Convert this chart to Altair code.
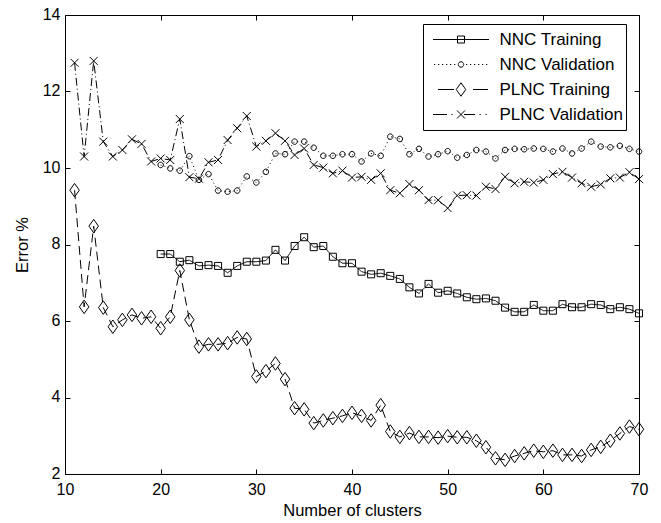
import math
import altair as alt
import pandas as pd

FONT = "Liberation Sans, Arial, Helvetica, sans-serif"

# ---------------- data ----------------
series_names = ["NNC Training", "NNC Validation", "PLNC Training", "PLNC Validation"]

nnc_clusters = list(range(20, 71))
plnc_clusters = list(range(11, 71))

nnc_training = [
    7.75, 7.75, 7.55, 7.59, 7.44, 7.46, 7.44, 7.26, 7.44, 7.55,   # 20-29
    7.55, 7.58, 7.86, 7.58, 7.96, 8.19, 7.93, 7.96, 7.68, 7.51,   # 30-39
    7.51, 7.29, 7.22, 7.25, 7.18, 7.10, 6.88, 6.72, 6.97, 6.74,   # 40-49
    6.79, 6.72, 6.62, 6.57, 6.59, 6.53, 6.35, 6.24, 6.24, 6.42,   # 50-59
    6.27, 6.27, 6.44, 6.36, 6.36, 6.44, 6.42, 6.31, 6.36, 6.31,   # 60-69
    6.20,                                                         # 70
]

nnc_validation = [
    10.08, 9.99, 9.93, 10.31, 9.69, 9.84, 9.41, 9.38, 9.41, 9.78,      # 20-29
    9.62, 9.90, 10.38, 10.36, 10.69, 10.69, 10.53, 10.32, 10.32, 10.36,  # 30-39
    10.36, 10.17, 10.38, 10.32, 10.82, 10.76, 10.36, 10.50, 10.30, 10.36,  # 40-49
    10.44, 10.27, 10.34, 10.47, 10.43, 10.25, 10.47, 10.50, 10.49, 10.51,  # 50-59
    10.50, 10.43, 10.51, 10.38, 10.51, 10.69, 10.56, 10.54, 10.58, 10.50,  # 60-69
    10.43,                                                                 # 70
]

plnc_training = [
    9.42, 6.37, 8.48, 6.35, 5.85, 6.03, 6.16, 6.07, 6.11,        # 11-19
    5.81, 6.11, 7.32, 6.03, 5.33, 5.39, 5.39, 5.42, 5.57, 5.53,  # 20-29
    4.55, 4.69, 4.89, 4.48, 3.72, 3.69, 3.33, 3.40, 3.46, 3.52,  # 30-39
    3.60, 3.52, 3.40, 3.80, 3.11, 2.97, 3.07, 2.97, 2.97, 2.95,  # 40-49
    2.99, 2.96, 2.96, 2.87, 2.70, 2.41, 2.37, 2.47, 2.54, 2.61,  # 50-59
    2.58, 2.61, 2.50, 2.50, 2.47, 2.63, 2.71, 2.87, 3.06, 3.24,  # 60-69
    3.17,                                                        # 70
]

plnc_validation = [
    12.75, 10.30, 12.80, 10.69, 10.30, 10.47, 10.75, 10.63, 10.17,       # 11-19
    10.25, 10.21, 11.28, 9.76, 9.72, 10.15, 10.21, 10.73, 11.04, 11.36,  # 20-29
    10.56, 10.71, 10.91, 10.71, 10.34, 10.51, 10.08, 10.01, 9.86, 9.93,  # 30-39
    9.75, 9.77, 9.69, 9.86, 9.42, 9.34, 9.58, 9.42, 9.16, 9.16,          # 40-49
    8.95, 9.28, 9.29, 9.28, 9.51, 9.45, 9.77, 9.60, 9.64, 9.62,          # 50-59
    9.69, 9.84, 9.90, 9.75, 9.60, 9.51, 9.57, 9.73, 9.75, 9.89,          # 60-69
    9.71,                                                                # 70
]

x_ticks = [10, 20, 30, 40, 50, 60, 70]
y_ticks = [2, 4, 6, 8, 10, 12, 14]

rows = []
for name, xs, ys in [
    (series_names[0], nnc_clusters, nnc_training),
    (series_names[1], nnc_clusters, nnc_validation),
    (series_names[2], plnc_clusters, plnc_training),
    (series_names[3], plnc_clusters, plnc_validation),
]:
    for xv, yv in zip(xs, ys):
        rows.append({"clusters": xv, "error": yv, "series": name, "entry": name})
df = pd.DataFrame(rows)

# ---------------- marker shapes (unit = 5 px, size 100) ----------------
def poly_circle(r, n=16):
    pts = [(r * math.cos(2 * math.pi * k / n), r * math.sin(2 * math.pi * k / n)) for k in range(n)]
    return "M" + "L".join(f"{px:.3f},{py:.3f}" for px, py in pts) + "Z"

marker_paths = [
    "M-0.7,-0.7H0.7V0.7H-0.7Z",
    poly_circle(0.55),
    "M0,-1.35L0.95,0L0,1.35L-0.95,0Z",
    "M-0.8,-0.8L0.8,0.8M-0.8,0.8L0.8,-0.8",
]

# ---------------- legend symbols (unit = 28 px, size 3136) ----------------
U = 28.0
def seg(a, b):
    return f"M{a / U:.4f},0H{b / U:.4f}"

def box(hw, hh):
    return f"M{-hw / U:.4f},{-hh / U:.4f}H{hw / U:.4f}V{hh / U:.4f}H{-hw / U:.4f}Z"

def diamond(hw, hh):
    return f"M0,{-hh / U:.4f}L{hw / U:.4f},0L0,{hh / U:.4f}L{-hw / U:.4f},0Z"

def xmark(h):
    return f"M{-h / U:.4f},{-h / U:.4f}L{h / U:.4f},{h / U:.4f}M{-h / U:.4f},{h / U:.4f}L{h / U:.4f},{-h / U:.4f}"

dots = "".join(seg(p, p + 1.2) for p in range(-27, 28, 4) if abs(p) > 4)
legend_paths = [
    seg(-28, 28) + box(3.5, 3.5),
    dots + poly_circle(2.75 / U),
    seg(-23, -7) + seg(12, 27) + diamond(4.75, 6.75),
    seg(-28, -14) + seg(-9.5, -8.3) + seg(3, 14) + seg(18.5, 19.7) + seg(24.5, 25.7) + xmark(4),
]

# ---------------- chart ----------------
x_scale = alt.Scale(domain=[10, 70], nice=False, zero=False)
y_scale = alt.Scale(domain=[2, 14], nice=False, zero=False)

x_main = alt.X(
    "clusters:Q", scale=x_scale,
    axis=alt.Axis(values=x_ticks, orient="bottom", offset=-5, domain=False, tickSize=5,
                  labelPadding=7, title="Number of clusters", titlePadding=5,
                  labelFlush=False, grid=False),
)
y_main = alt.Y(
    "error:Q", scale=y_scale,
    axis=alt.Axis(values=y_ticks, orient="left", offset=-5, domain=False, tickSize=5,
                  labelPadding=5, labelOffset=-1, title="Error %", titlePadding=12, grid=False),
)

lines = alt.Chart(df).mark_line(color="black", strokeWidth=1).encode(
    x=x_main,
    y=y_main,
    strokeDash=alt.StrokeDash(
        "series:N",
        scale=alt.Scale(domain=series_names, range=[[1, 0], [1, 3], [9, 5], [8, 3, 1, 3]]),
        legend=None,
    ),
)

points = alt.Chart(df).mark_point(filled=False, color="black", strokeWidth=1, size=100, opacity=1).encode(
    x=alt.X("clusters:Q", scale=x_scale,
            axis=alt.Axis(values=x_ticks, orient="top", offset=-5, domain=False, tickSize=5,
                          labels=False, title=None, grid=False)),
    y=alt.Y("error:Q", scale=y_scale,
            axis=alt.Axis(values=y_ticks, orient="right", offset=-5, domain=False, tickSize=5,
                          labels=False, title=None, grid=False)),
    shape=alt.Shape("series:N", scale=alt.Scale(domain=series_names, range=marker_paths), legend=None),
)

legend_layer = alt.Chart(df).mark_point(filled=False, color="black", strokeWidth=1, size=3136, opacity=0).encode(
    x=alt.X("clusters:Q", scale=x_scale, axis=None),
    y=alt.Y("error:Q", scale=y_scale, axis=None),
    shape=alt.Shape(
        "entry:N",
        scale=alt.Scale(domain=series_names, range=legend_paths),
        legend=alt.Legend(
            title=None, orient="none", legendX=358, legendY=9,
            clipHeight=25, rowPadding=0, padding=3,
            symbolOffset=6.5, labelOffset=10, symbolSize=3136,
            symbolStrokeWidth=1, symbolStrokeColor="black", symbolOpacity=1,
            labelFont=FONT, labelFontSize=17, labelColor="black", labelLimit=300,
            strokeColor="black", fillColor="white", cornerRadius=0,
        ),
    ),
)

chart = (
    alt.layer(lines, points, legend_layer)
    .resolve_scale(shape="independent")
    .resolve_axis(x="independent", y="independent")
    .properties(
        width=574, height=459,
        autosize=alt.AutoSizeParams(type="none"),
        padding={"left": 65, "top": 15, "right": 22, "bottom": 49},
        background="white",
    )
    .configure_view(stroke="black", strokeWidth=1)
    .configure_axis(
        labelFont=FONT, titleFont=FONT, labelFontSize=16, titleFontSize=16.5,
        labelColor="black", titleColor="black", tickColor="black", tickWidth=1,
        titleFontWeight="normal", grid=False,
    )
)

chart.save("out.html", embed_options={"renderer": "svg", "actions": False})
